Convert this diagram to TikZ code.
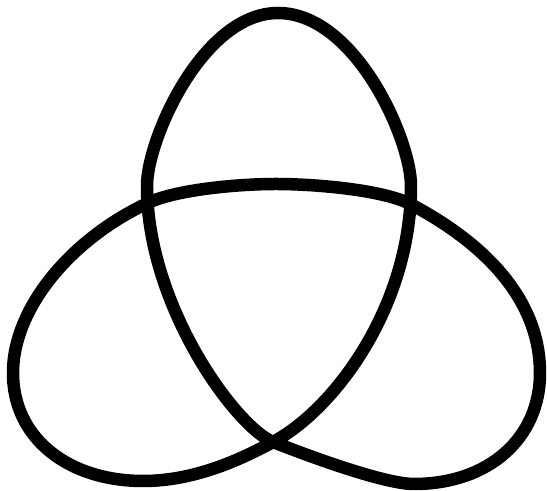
\documentclass[tikz,border=0pt]{standalone}

\begin{document}
\begin{tikzpicture}[scale=.02, knot/.style={line width=.25cm, line join=round}]
  \useasboundingbox (0,0) rectangle (547,491);
  \coordinate (low) at (273,49);
  \coordinate (lx) at (148,288);
  \coordinate (rx) at (410,287);
  % one closed strand: top loop, right loop, arc, left loop
  \draw[knot] (low) .. controls (335,82) and (411,185) .. (411,305)
    .. controls (411,352) and (355,478) .. (278,478)
    .. controls (203,478) and (147,352) .. (147,305)
    .. controls (147,185) and (236,64) .. (low)
    .. controls (329,27) and (389,7) .. (414,7)
    .. controls (489,7) and (540,53) .. (540,118)
    .. controls (540,188) and (490,245) .. (rx)
    .. controls (383,301) and (316,307) .. (276,307)
    .. controls (236,307) and (175,301) .. (lx)
    .. controls (71,252) and (13,183) .. (13,118)
    .. controls (13,53) and (68,10) .. (143,10)
    .. controls (193,10) and (238,30) .. cycle;
\end{tikzpicture}
\end{document}
